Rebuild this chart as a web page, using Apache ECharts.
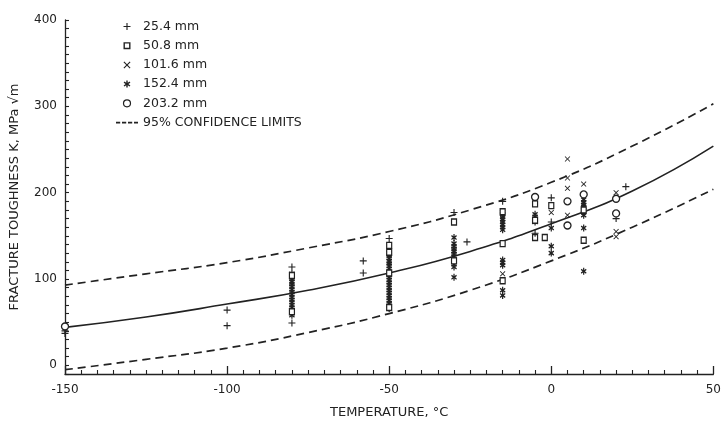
<!DOCTYPE html>
<html><head><meta charset="utf-8">
<script src="https://cdn.jsdelivr.net/npm/echarts@6/dist/echarts.min.js"></script>
<style>html,body{margin:0;padding:0;background:#fff}#c{width:724px;height:425px}</style>
</head><body><div id="c"></div>
<script>
// Curves (read at 25 °C steps)
const curveT = [-150, -125, -100, -75, -50, -25, 0, 25, 50];
const medianK = [44, 56, 71, 87, 107, 132, 164, 202, 254];
const upperK = [93, 106, 119, 136, 155, 180, 212, 254, 303];
const lowerK = [-5, 7, 20, 38, 60, 87, 121, 160, 204];

// Tick labels
const xTickLabels = [-150, -100, -50, 0, 50];
const yTickLabels = [0, 100, 200, 300, 400];

// Specimen series names
const names = ['25.4 mm', '50.8 mm', '101.6 mm', '152.4 mm', '203.2 mm'];
const confName = '95% CONFIDENCE LIMITS';

// Data points [temperature °C, K MPa√m]
const pts25 = [[-150,40],[-150,37],[-100,64],[-100,46],[-80,114],[-80,49],[-58,121],[-58,107],
  [-50,147],[-30,177],[-26,143],[-15,190],[-5,153],[0,194],[0,166],[20,170],[23,207]];
const pts50 = [[-80,104],[-80,62],[-50,139],[-50,131],[-50,107],[-50,67],
  [-30,166],[-30,121],[-15,178],[-15,141],[-15,98],[-5,187],[-5,168],[-5,148],[-2,148],
  [0,185],[10,145],[10,180]];
const pts101 = [[-80,96],[-50,120],[-30,133],[-15,106],[-15,170],[0,177],[5,239],[5,217],[5,205],
  [5,174],[10,210],[10,188],[20,200],[20,155],[20,149]];
const pts152 = [
  [-80,58],[-80,61],[-80,64],[-80,67],[-80,70],[-80,73],[-80,76],[-80,79],[-80,82],[-80,85],[-80,88],
  [-80,91],[-80,94],[-80,97],[-80,100],[-80,103],[-80,106],
  [-50,112],[-50,115],[-50,118],[-50,121],[-50,124],[-50,127],[-50,130],
  [-50,66],[-50,69],[-50,72],[-50,75],[-50,78],[-50,81],[-50,84],[-50,87],[-50,90],[-50,93],[-50,96],
  [-50,99],[-50,102],[-50,105],
  [-30,148],[-30,141],[-30,138],[-30,135],[-30,132],[-30,129],[-30,126],[-30,123],[-30,120],[-30,117],
  [-30,114],[-30,102],
  [-15,157],[-15,160],[-15,163],[-15,166],[-15,169],[-15,172],[-15,175],[-15,178],[-15,122],[-15,119],
  [-15,116],[-15,87],[-15,81],
  [-5,166],[-5,169],[-5,172],[-5,175],
  [0,159],[0,138],[0,130],
  [10,174],[10,177],[10,180],[10,183],[10,186],[10,189],[10,192],[10,159],[10,109]];
const pts203 = [[-150,45],[-5,195],[5,190],[5,162],[10,198],[20,193],[20,176]];

const ink = '#222';
const font = 'DejaVu Sans';
const plusPath = 'path://M4.2,0H5.8V4.2H10V5.8H5.8V10H4.2V5.8H0V4.2H4.2Z';
const crossPath = 'path://M1.1,0L5,3.9L8.9,0L10,1.1L6.1,5L10,8.9L8.9,10L5,6.1L1.1,10L0,8.9L3.9,5L0,1.1Z';
const astPath = 'path://M4,0H6V3.2L8.8,1.4L9.8,3.1L7,5L9.8,6.9L8.8,8.6L6,6.8V10H4V6.8L1.2,8.6L0.2,6.9L3,5L0.2,3.1L1.2,1.4L4,3.2Z';
const hollowSq = 'path://M0,0H10V10H0Z M2,2V8H8V2Z';
const dashIcon = 'path://M0,0L0.01,0L0,0.01Z M0,7L0.01,7L0,6.99Z M0,2.8H4.2V4.4H0Z M6,2.8H10.2V4.4H6Z M12,2.8H16.2V4.4H12Z M18,2.8H22V4.4H18Z';

const zip = (xs, ys) => xs.map((x, i) => [x, ys[i]]);

const chart = echarts.init(document.getElementById('c'), null, {renderer: 'canvas'});
chart.setOption({
  backgroundColor: '#fff',
  animation: false,
  grid: {left: 62, right: 7, top: 20, bottom: 51},
  legend: {
    left: 111, top: 15, orient: 'vertical',
    itemWidth: 22, itemHeight: 7, itemGap: 6.2, symbolKeepAspect: true,
    textStyle: {color: ink, fontSize: 12.5, fontFamily: font},
    data: [
      {name: names[0], icon: plusPath, itemStyle: {color: ink, borderWidth: 0}},
      {name: names[1], icon: hollowSq, itemStyle: {color: ink, borderWidth: 0}},
      {name: names[2], icon: crossPath, itemStyle: {color: ink, borderWidth: 0}},
      {name: names[3], icon: astPath, itemStyle: {color: ink, borderWidth: 0}},
      {name: names[4], icon: 'circle', itemStyle: {color: '#fff', borderColor: ink, borderWidth: 1.2}},
      {name: confName, icon: dashIcon, itemStyle: {color: ink, borderWidth: 0}}
    ]
  },
  xAxis: {
    type: 'value', min: -150, max: 50, interval: 50,
    name: 'TEMPERATURE, °C', nameLocation: 'middle', nameGap: 32,
    nameTextStyle: {color: ink, fontSize: 13, fontFamily: font},
    axisLine: {onZero: false, lineStyle: {color: ink, width: 1.3}},
    axisTick: {inside: true, length: 8, lineStyle: {color: ink, width: 1.3}},
    minorTick: {show: true, splitNumber: 10, length: 4, lineStyle: {color: ink, width: 1.1}},
    axisLabel: {color: ink, fontSize: 12, fontFamily: font, margin: 10,
      formatter: v => xTickLabels.includes(v) ? String(v) : ''},
    splitLine: {show: false}
  },
  yAxis: {
    type: 'value', min: -10, max: 400, interval: 10,
    name: 'FRACTURE TOUGHNESS K, MPa √m', nameLocation: 'middle', nameGap: 44,
    nameTextStyle: {color: ink, fontSize: 13, fontFamily: font},
    axisLine: {show: true, onZero: false, lineStyle: {color: ink, width: 1.3}},
    axisTick: {show: true, inside: true, length: 4, interval: 0, lineStyle: {color: ink, width: 1.1}},
    axisLabel: {color: ink, fontSize: 12, fontFamily: font, interval: 0, margin: 8,
      formatter: v => yTickLabels.includes(v) ? String(v) : ''},
    splitLine: {show: false}
  },
  series: [
    {name: 'median', type: 'line', smooth: true, symbol: 'none', data: zip(curveT, medianK),
      lineStyle: {color: ink, width: 1.6}, itemStyle: {color: ink}, z: 2},
    {name: confName, type: 'line', smooth: true, symbol: 'none', data: zip(curveT, upperK),
      lineStyle: {color: ink, width: 1.7, type: [8, 5]}, itemStyle: {color: ink}, z: 2},
    {name: confName, type: 'line', smooth: true, symbol: 'none', data: zip(curveT, lowerK),
      lineStyle: {color: ink, width: 1.7, type: [8, 5]}, itemStyle: {color: ink}, z: 2},
    {name: names[3], type: 'scatter', data: pts152, symbol: astPath, symbolSize: [6, 7],
      symbolKeepAspect: true, itemStyle: {color: ink, opacity: 1}, z: 3},
    {name: names[1], type: 'scatter', data: pts50, symbol: 'rect', symbolSize: [5, 6],
      itemStyle: {color: '#fff', borderColor: ink, borderWidth: 1.3, opacity: 1}, z: 4},
    {name: names[0], type: 'scatter', data: pts25, symbol: plusPath, symbolSize: 7,
      symbolKeepAspect: true, itemStyle: {color: ink, opacity: 1}, z: 4},
    {name: names[2], type: 'scatter', data: pts101, symbol: crossPath, symbolSize: 5.5,
      symbolKeepAspect: true, itemStyle: {color: ink, opacity: 1}, z: 4},
    {name: names[4], type: 'scatter', data: pts203, symbol: 'circle', symbolSize: 7,
      itemStyle: {color: '#fff', borderColor: ink, borderWidth: 1.3, opacity: 1}, z: 4}
  ]
});
</script></body></html>
